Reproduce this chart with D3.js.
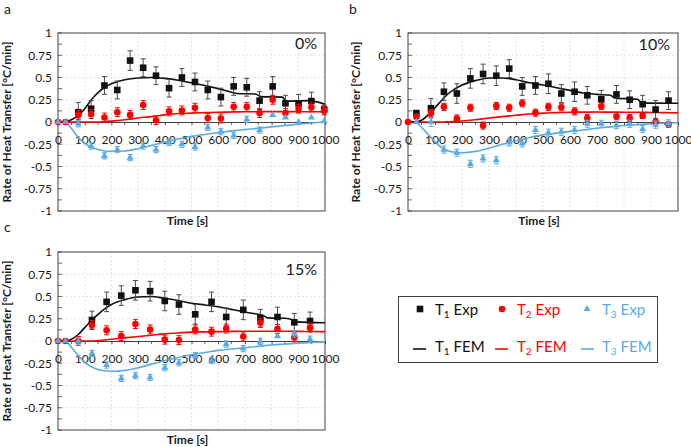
<!DOCTYPE html>
<html><head><meta charset="utf-8">
<script src="https://cdn.jsdelivr.net/npm/d3@7"></script>
<style>
body{margin:0;background:#fff}
svg{display:block}
text{font-family:Lato,Carlito,"Liberation Sans",sans-serif}
</style>
</head><body>
<svg id="chart" width="691" height="447"></svg>
<script>
// ---------- tick labels ----------
const xTicks = [0,100,200,300,400,500,600,700,800,900,1000];
const yTicks = [-1,-0.75,-0.5,-0.25,0,0.25,0.5,0.75,1];

// ---------- panel a (0%) ----------
const aT1Time = [76,124,174,222,270,319,367,416,464,513,561,610,658,707,755,804,852,901,949,997];
const aT1     = [0.11,0.15,0.41,0.36,0.69,0.61,0.52,0.38,0.50,0.45,0.36,0.28,0.40,0.39,0.24,0.40,0.21,0.21,0.235,0.14];
const aT1Err  = [0.11,0.09,0.1,0.1,0.11,0.1,0.1,0.1,0.1,0.1,0.1,0.1,0.1,0.1,0.1,0.11,0.09,0.1,0.1,0.05];
const aT2Time = [0,28,76,124,174,222,270,319,367,416,464,513,561,610,658,707,755,804,852,901,949,997];
const aT2     = [0,0,0.08,0.09,0.05,0.11,0.08,0.19,0.02,0.12,0.13,0.16,0.045,0.04,0.17,0.17,0.10,0.25,0.10,0.15,0.165,0.13];
const aT2Err  = [0,0,0.05,0.05,0.05,0.05,0.05,0.05,0.05,0.05,0.05,0.05,0.05,0.05,0.05,0.05,0.05,0.05,0.05,0.05,0.05,0.05];
const aT3Time = [0,28,76,124,174,222,270,319,367,416,464,513,561,610,658,707,755,804,852,901,949,997];
const aT3     = [0,0,-0.02,-0.27,-0.38,-0.31,-0.40,-0.27,-0.31,-0.23,-0.25,-0.28,-0.06,-0.11,-0.15,0.03,-0.09,0.08,0.05,0.0,0.05,0.01];
const aT3Err  = [0,0,0.035,0.035,0.035,0.035,0.035,0.035,0.035,0.035,0.035,0.035,0.035,0.035,0.035,0.035,0.035,0.0,0.0,0.0,0.0,0.0];
const aFem1Time = [0,30,45,75,100,125,150,175,200,250,300,350,400,450,500,550,600,650,670,740,760,840,855,940,1000];
const aFem1     = [0,0,0.02,0.07,0.15,0.25,0.33,0.39,0.43,0.475,0.495,0.5,0.49,0.47,0.44,0.41,0.375,0.335,0.32,0.315,0.285,0.28,0.235,0.24,0.2];

// shared time grid of the T2 / T3 FEM curves
const femTime = [0,25,50,75,100,125,150,175,200,250,300,350,400,450,500,550,600,650,700,750,800,850,900,950,1000];
const aFem2 = [0,0,0,0,0,0,0,0.004,0.01,0.025,0.045,0.06,0.08,0.095,0.1,0.105,0.11,0.112,0.115,0.116,0.117,0.117,0.116,0.116,0.115];
const aFem3 = [0,0,-0.07,-0.17,-0.24,-0.285,-0.31,-0.325,-0.33,-0.325,-0.3,-0.265,-0.225,-0.19,-0.16,-0.14,-0.12,-0.1,-0.085,-0.07,-0.055,-0.04,-0.025,-0.012,0];

// ---------- panel b (10%) ----------
const bT1Time = [31,85,133,181,231,278,327,375,423,472,520,568,617,664,716,772,821,869,917,965];
const bT1     = [0.10,0.155,0.34,0.32,0.49,0.54,0.52,0.60,0.40,0.41,0.43,0.32,0.34,0.30,0.255,0.31,0.25,0.20,0.14,0.24];
const bT1Err  = [0.03,0.11,0.1,0.11,0.11,0.11,0.11,0.1,0.1,0.1,0.11,0.1,0.11,0.1,0.1,0.1,0.1,0.1,0.1,0.1];
const bT2Time = [0,31,85,133,181,231,278,327,375,423,472,520,568,617,664,716,772,821,869,917,965];
const bT2     = [0,0.06,0.10,0.17,0.04,0.16,-0.04,0.18,0.16,0.21,0.105,0.17,0.165,0.12,0.045,0.18,0.065,0.045,0.07,0.0,-0.03];
const bT2Err  = [0,0.02,0.04,0.04,0.04,0.04,0.04,0.04,0.04,0.04,0.04,0.04,0.04,0.04,0.04,0.04,0.04,0.04,0.03,0.03,0.03];
const bT3Time = [31,85,133,181,231,278,327,375,423,472,520,568,617,664,716,772,821,869,917,965];
const bT3     = [0,0.0,-0.31,-0.345,-0.47,-0.41,-0.43,-0.23,-0.24,-0.09,-0.12,-0.11,-0.09,-0.02,-0.02,-0.035,-0.02,-0.08,-0.03,-0.015];
const bT3Err  = [0,0.05,0.04,0.04,0.04,0.04,0.04,0.04,0.04,0.04,0.04,0.04,0.04,0.04,0.04,0.04,0.04,0.04,0.04,0.04];
const bFem1Time = [0,25,50,75,100,125,150,200,250,300,350,400,450,500,550,600,650,700,750,765,850,865,1000];
const bFem1     = [0,0,0.02,0.08,0.16,0.245,0.32,0.415,0.465,0.495,0.495,0.475,0.44,0.415,0.385,0.355,0.325,0.31,0.3,0.27,0.255,0.215,0.21];
const bFem2 = [0,0,0,0,0,0,0.003,0.007,0.012,0.025,0.045,0.06,0.075,0.09,0.1,0.105,0.11,0.111,0.112,0.111,0.11,0.109,0.107,0.105,0.103];
const bFem3 = [0,0,-0.06,-0.14,-0.22,-0.29,-0.325,-0.34,-0.345,-0.33,-0.295,-0.25,-0.21,-0.175,-0.145,-0.125,-0.105,-0.09,-0.07,-0.055,-0.04,-0.03,-0.02,-0.012,-0.008];

// ---------- panel c (15%) ----------
const cT1Time = [127,182,237,290,345,400,453,514,575,630,694,758,822,885,944];
const cT1     = [0.236,0.44,0.51,0.57,0.56,0.45,0.41,0.30,0.44,0.27,0.35,0.255,0.27,0.21,0.225];
const cT1Err  = [0.1,0.11,0.11,0.11,0.11,0.11,0.11,0.11,0.11,0.1,0.11,0.1,0.11,0.1,0.1];
const cT2Time = [0,28,76,127,182,237,290,345,400,453,514,575,630,694,758,822,885,944];
const cT2     = [0,0,0,0.18,0.12,0.056,0.19,0.13,0.015,0.01,0.13,0.105,0.14,0.05,0.205,0.135,0.04,0.15];
const cT2Err  = [0,0,0.05,0.05,0.05,0.05,0.05,0.05,0.05,0.05,0.05,0.05,0.05,0.05,0.05,0.05,0.05,0.05];
const cT3Time = [0,28,76,127,182,237,290,345,400,453,514,575,630,694,758,822,885,944];
const cT3     = [0,0,-0.005,-0.14,-0.27,-0.42,-0.39,-0.41,-0.30,-0.245,-0.165,-0.22,-0.035,-0.085,-0.005,0.055,0.08,0.02];
const cT3Err  = [0,0,0.04,0.035,0.035,0.035,0.035,0.035,0.035,0.035,0.035,0.035,0.035,0.035,0.035,0.0,0.035,0.035];
const cFem1Time = [0,30,50,75,100,125,150,175,200,250,300,350,400,450,500,550,600,650,700,750,770,785,850,880,895,1000];
const cFem1     = [0,0,0.02,0.07,0.15,0.23,0.3,0.36,0.41,0.465,0.495,0.5,0.48,0.455,0.425,0.405,0.385,0.355,0.325,0.3,0.285,0.26,0.255,0.235,0.215,0.205];
const cFem2 = [0,0,0,0,0,0,0.005,0.012,0.02,0.035,0.05,0.065,0.08,0.09,0.1,0.103,0.105,0.108,0.11,0.11,0.11,0.109,0.108,0.106,0.105];
const cFem3 = [0,0,-0.07,-0.16,-0.24,-0.29,-0.32,-0.335,-0.34,-0.33,-0.3,-0.26,-0.22,-0.185,-0.155,-0.13,-0.105,-0.09,-0.075,-0.06,-0.045,-0.035,-0.025,-0.015,-0.01];

// ---------- legend ----------
const legendExp = ["Exp","Exp","Exp"];
const legendFem = ["FEM","FEM","FEM"];
const seriesSub = ["1","2","3"];

// ---------- styles ----------
const BLACK = "#111111", RED = "#ff0000", BLUE = "#5aaae6";
const ERRBLACK = "#4a4a4a";
const AXIS = "#404040", GRID = "#d5dde6";
const FONT = 'Lato, Carlito, "Liberation Sans", sans-serif';
const TICKFS = 12, TITLEFS = 12;

const svg = d3.select("#chart");
const zip = (t, v, e) => t.map((d, i) => ({t: d, v: v[i], e: e ? e[i] : 0}));

const panels = [
  {letter:"a", tag:"0%", x0:58, x1:325, y0:33, y1:211, letterX:4, letterY:14, tagY:49, titleX:11,
   t1:zip(aT1Time,aT1,aT1Err), t2:zip(aT2Time,aT2,aT2Err), t3:zip(aT3Time,aT3,aT3Err),
   f1:zip(aFem1Time,aFem1), f2:zip(femTime,aFem2), f3:zip(femTime,aFem3)},
  {letter:"b", tag:"10%", x0:408, x1:678, y0:33, y1:211, letterX:349, letterY:14, tagY:50, titleX:360,
   t1:zip(bT1Time,bT1,bT1Err), t2:zip(bT2Time,bT2,bT2Err), t3:zip(bT3Time,bT3,bT3Err),
   f1:zip(bFem1Time,bFem1), f2:zip(femTime,bFem2), f3:zip(femTime,bFem3)},
  {letter:"c", tag:"15%", x0:58, x1:325, y0:252, y1:430, letterX:4, letterY:232, tagY:275, titleX:11,
   t1:zip(cT1Time,cT1,cT1Err), t2:zip(cT2Time,cT2,cT2Err), t3:zip(cT3Time,cT3,cT3Err),
   f1:zip(cFem1Time,cFem1), f2:zip(femTime,cFem2), f3:zip(femTime,cFem3)}
];

function drawPanel(p) {
  const x = d3.scaleLinear().domain([0,1000]).range([p.x0,p.x1]);
  const y = d3.scaleLinear().domain([-1,1]).range([p.y1,p.y0]);
  const g = svg.append("g");

  // grid
  g.append("g").selectAll("line").data(xTicks.slice(1,-1)).join("line")
    .attr("x1", d=>x(d)).attr("x2", d=>x(d)).attr("y1", p.y0).attr("y2", p.y1)
    .attr("stroke", GRID).attr("stroke-width", 0.8).attr("stroke-dasharray","2,2");
  g.append("g").selectAll("line").data(yTicks.slice(1,-1).filter(d=>d!==0)).join("line")
    .attr("x1", p.x0).attr("x2", p.x1).attr("y1", d=>y(d)).attr("y2", d=>y(d))
    .attr("stroke", GRID).attr("stroke-width", 0.8).attr("stroke-dasharray","2,2");

  // y axis (labels + minor ticks)
  const ya = g.append("g").attr("transform",`translate(${p.x0},0)`)
    .call(d3.axisLeft(y).tickValues(yTicks).tickSize(0).tickPadding(6).tickFormat(d=>String(d)));
  ya.select(".domain").remove();
  ya.selectAll("text").attr("font-size", TICKFS).attr("fill","#1a1a1a").style("font-family", FONT);
  g.append("g").selectAll("line").data(d3.range(-1,1.001,0.125)).join("line")
    .attr("x1", p.x0).attr("x2", p.x0+4).attr("y1", d=>y(d)).attr("y2", d=>y(d))
    .attr("stroke", AXIS).attr("stroke-width", 0.8);

  // plot border
  g.append("rect").attr("x",p.x0).attr("y",p.y0).attr("width",p.x1-p.x0).attr("height",p.y1-p.y0)
    .attr("fill","none").attr("stroke",AXIS).attr("stroke-width",1);

  // x axis at zero
  const xa = g.append("g").attr("transform",`translate(0,${y(0)})`)
    .call(d3.axisBottom(x).tickValues(xTicks).tickSize(3).tickPadding(10).tickFormat(d=>String(d)));
  xa.select(".domain").attr("stroke", AXIS);
  xa.selectAll(".tick line").attr("stroke", AXIS);
  xa.selectAll("text").attr("font-size", TICKFS).attr("fill","#1a1a1a").style("font-family", FONT);
  g.append("g").selectAll("line").data(d3.range(50,1000,100)).join("line")
    .attr("x1", d=>x(d)).attr("x2", d=>x(d)).attr("y1", y(0)).attr("y2", y(0)+3)
    .attr("stroke", AXIS).attr("stroke-width", 0.8);

  // axis titles
  g.append("text").attr("x", (p.x0+p.x1)/2 - 4).attr("y", p.y1+14).attr("text-anchor","middle")
    .attr("font-size", TITLEFS).attr("font-weight","bold").attr("fill","#1a1a1a").text("Time [s]");
  g.append("text").attr("transform",`translate(${p.titleX},${(p.y0+p.y1)/2}) rotate(-90)`)
    .attr("text-anchor","middle").attr("font-size", TITLEFS).attr("font-weight","bold").attr("fill","#1a1a1a")
    .text("Rate of Heat Transfer [°C/min]");

  // panel letter and tag
  svg.append("text").attr("x", p.letterX).attr("y", p.letterY).attr("font-size", 14).attr("fill","#1a1a1a").text(p.letter);
  g.append("text").attr("x", p.x1-8).attr("y", p.tagY).attr("text-anchor","end").attr("font-size", 16)
    .attr("fill","#1a1a1a").text(p.tag);

  // FEM lines
  const line = d3.line().x(d=>x(d.t)).y(d=>y(d.v)).curve(d3.curveMonotoneX);
  [[p.f3,BLUE],[p.f2,RED],[p.f1,BLACK]].forEach(([data,col]) => {
    g.append("path").datum(data).attr("d", line).attr("fill","none").attr("stroke",col).attr("stroke-width",1.6);
  });

  // error bars + markers
  function errBars(data, col) {
    const eg = g.append("g").attr("stroke", col).attr("stroke-width", 1);
    const sel = eg.selectAll("g").data(data.filter(d=>d.e>0)).join("g");
    sel.append("line").attr("x1",d=>x(d.t)).attr("x2",d=>x(d.t)).attr("y1",d=>y(d.v-d.e)).attr("y2",d=>y(d.v+d.e));
    sel.append("line").attr("x1",d=>x(d.t)-2.5).attr("x2",d=>x(d.t)+2.5).attr("y1",d=>y(d.v-d.e)).attr("y2",d=>y(d.v-d.e));
    sel.append("line").attr("x1",d=>x(d.t)-2.5).attr("x2",d=>x(d.t)+2.5).attr("y1",d=>y(d.v+d.e)).attr("y2",d=>y(d.v+d.e));
  }
  errBars(p.t1, ERRBLACK);
  g.append("g").selectAll("rect").data(p.t1).join("rect")
    .attr("x",d=>x(d.t)-3.3).attr("y",d=>y(d.v)-3.3).attr("width",6.6).attr("height",6.6).attr("fill",BLACK);
  errBars(p.t2, RED);
  g.append("g").selectAll("circle").data(p.t2).join("circle")
    .attr("cx",d=>x(d.t)).attr("cy",d=>y(d.v)).attr("r",3.3).attr("fill",RED);
  errBars(p.t3, BLUE);
  const tri = d3.symbol().type(d3.symbolTriangle).size(22);
  g.append("g").selectAll("path").data(p.t3).join("path")
    .attr("transform",d=>`translate(${x(d.t)},${y(d.v)})`).attr("d",tri).attr("fill",BLUE);
}

panels.forEach(drawPanel);

// ---------- legend ----------
const lg = svg.append("g");
lg.append("rect").attr("x",398.5).attr("y",296.5).attr("width",259).attr("height",66)
  .attr("fill","none").attr("stroke",AXIS).attr("stroke-width",1);
const cols = [BLACK, RED, BLUE];
const markerX = [420, 502, 587];
const textX = [435, 517, 602];
const lineX = [[413,426],[495,508],[581,594]];
function legendText(i, word, yb) {
  const t = lg.append("text").attr("x", textX[i]).attr("y", yb).attr("font-size", 15).attr("fill", cols[i]);
  t.append("tspan").text("T");
  t.append("tspan").attr("font-size", 10).attr("dy", 3).text(seriesSub[i]);
  t.append("tspan").attr("dy", -3).text(" " + word);
}
// row 1: experimental markers
lg.append("rect").attr("x",markerX[0]-3.3).attr("y",309-3.3).attr("width",6.6).attr("height",6.6).attr("fill",BLACK);
lg.append("circle").attr("cx",markerX[1]).attr("cy",309).attr("r",3.3).attr("fill",RED);
lg.append("path").attr("transform",`translate(${markerX[2]},309)`).attr("d",d3.symbol().type(d3.symbolTriangle).size(22)()).attr("fill",BLUE);
legendExp.forEach((w,i)=>legendText(i, w, 315));
// row 2: FEM lines
lineX.forEach((lx,i)=>lg.append("line").attr("x1",lx[0]).attr("x2",lx[1]).attr("y1",349).attr("y2",349)
  .attr("stroke",cols[i]).attr("stroke-width",1.6));
legendFem.forEach((w,i)=>legendText(i, w, 351.5));
</script>
</body></html>
